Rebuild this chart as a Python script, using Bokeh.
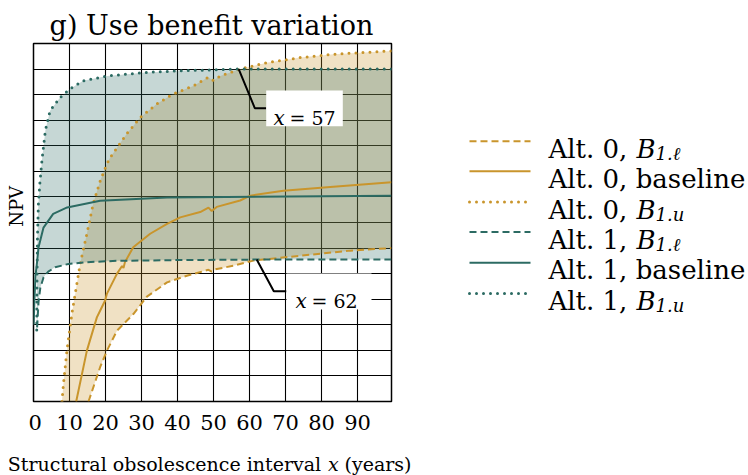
import numpy as np
from bokeh.plotting import figure
from bokeh.layouts import column, row
from bokeh.models import Range1d, Label, FixedTicker
from bokeh.embed import file_html
from bokeh.resources import INLINE

# ---------------- data ----------------
# Alt. 0, B_1.l (lower benefit) - gold dashed
a0_low_x = [15.28, 18.5, 20.4, 23.2, 25.9, 27.8, 31.5, 37.1, 42.6, 48.6, 49.5, 50.5, 55.5, 61.1, 74.1, 88.0, 99.4]
a0_low_y = [0.0, 1.34, 1.99, 2.77, 3.16, 3.43, 4.10, 4.66, 4.92, 5.15, 5.08, 5.17, 5.31, 5.51, 5.70, 5.90, 6.00]
# Alt. 0, baseline - gold solid
a0_base_x = [11.86, 14.83, 17.6, 18.5, 19.9, 20.4, 23.2, 24.6, 25.0, 25.4, 27.7, 32.4, 37.1, 40.75, 46.3, 48.6, 49.5, 50.9, 57.4, 60.2, 69.4, 83.3, 99.4]
a0_base_y = [0.0, 1.99, 3.29, 3.55, 3.95, 4.22, 5.00, 5.30, 5.22, 5.45, 6.03, 6.56, 6.95, 7.20, 7.41, 7.58, 7.45, 7.61, 7.86, 8.05, 8.24, 8.40, 8.57]
# Alt. 0, B_1.u (upper benefit) - gold dotted
a0_up_x = [7.9, 8.33, 9.28, 10.67, 12.97, 14.83, 16.58, 18.53, 20.4, 21.3, 25.9, 29.6, 34.3, 38.8, 44.4, 48.5, 50.0, 51.9, 57.4, 64.8, 74.1, 83.3, 99.4]
a0_up_y = [0.0, 0.70, 1.99, 3.44, 5.39, 6.56, 7.73, 8.63, 9.30, 9.54, 10.47, 11.10, 11.64, 12.03, 12.34, 12.68, 12.55, 12.73, 13.00, 13.25, 13.45, 13.58, 13.71]
# Alt. 1, B_1.l - teal dashed
a1_low_x = [1.0, 1.4, 1.9, 2.8, 4.1, 6.0, 9.7, 15.0, 23.1, 40.0, 62.0, 99.4]
a1_low_y = [2.90, 3.90, 4.45, 4.86, 5.08, 5.25, 5.38, 5.45, 5.50, 5.53, 5.55, 5.55]
# Alt. 1, baseline - teal solid
a1_base_x = [0.05, 0.25, 0.56, 0.94, 1.39, 2.78, 5.47, 9.36, 18.5, 37.1, 99.4]
a1_base_y = [3.00, 3.95, 4.92, 5.39, 6.02, 6.80, 7.34, 7.59, 7.85, 7.98, 8.05]
# Alt. 1, B_1.u - teal dotted
a1_up_x = [0.9, 0.95, 1.0, 1.1, 1.35, 1.8, 2.4, 3.3, 4.6, 7.4, 10.2, 13.8, 20.5, 30.5, 39.9, 57.0, 99.4]
a1_up_y = [2.80, 4.20, 5.20, 6.40, 7.70, 8.60, 9.50, 10.60, 11.37, 11.89, 12.23, 12.54, 12.73, 12.86, 12.93, 13.00, 13.00]

x_ticks = [0, 10, 20, 30, 40, 50, 60, 70, 80, 90]
y_grid = list(range(1, 14))
crossings = [57, 62]
crossing_y = [13.0, 5.55]

title_text = "g) Use benefit variation"
y_label = "NPV"
x_label_parts = ["Structural obsolescence interval", "x", "(years)"]
legend_labels = ["Alt. 0, ", "Alt. 0, baseline", "Alt. 0, ", "Alt. 1, ", "Alt. 1, baseline", "Alt. 1, "]
legend_subs = ["1.\u2113", None, "1.u", "1.\u2113", None, "1.u"]

GOLD = "#c9952c"
TEAL = "#2c6b63"
SERIF = "DejaVu Serif"

# ---------------- geometry (page pixels) ----------------
W, H = 748, 475
TOP_H = 42          # title strip
MID_H = 398         # main plot + legend
BOT_H = H - TOP_H - MID_H
NPV_W = 28          # strip holding the NPV label
MAIN_W = 420 - NPV_W
LEG_W = W - 420
FL, FR = 33, 391
FT, FB = 43, 401
XMAX, YMAX = 99.44, 14.0


def dx(px):
    return (px - FL) * XMAX / (FR - FL)


def dy(py):
    return (FB - py) * YMAX / (FB - FT)


def blank(w, h):
    f = figure(width=w, height=h, output_backend="svg", toolbar_location=None,
               x_range=Range1d(0, w), y_range=Range1d(h, 0),
               x_axis_location=None, y_axis_location=None,
               min_border=0, min_border_left=0, min_border_right=0,
               min_border_top=0, min_border_bottom=0)
    f.outline_line_color = None
    f.xgrid.visible = False
    f.ygrid.visible = False
    f.background_fill_color = "white"
    f.border_fill_color = "white"
    return f


def txt(f, x, y, s, size, italic=False, align="left", baseline="alphabetic", angle=0):
    f.add_layout(Label(x=x, y=y, text=s, text_font=SERIF, text_font_size=size,
                       text_font_style="italic" if italic else "normal",
                       text_align=align, text_baseline=baseline, angle=angle,
                       text_color="black"))


# ---------------- main plot ----------------
p = figure(width=MAIN_W, height=MID_H, output_backend="svg", toolbar_location=None,
           x_range=Range1d(0, XMAX), y_range=Range1d(0, YMAX),
           y_axis_location=None,
           min_border_left=FL - NPV_W, min_border_right=420 - FR,
           min_border_top=FT - TOP_H, min_border_bottom=MID_H - (FB - TOP_H))
p.background_fill_color = "white"
p.border_fill_color = "white"
p.outline_line_color = "black"
p.outline_line_width = 1.5

ax = p.xaxis[0]
ax.ticker = FixedTicker(ticks=x_ticks)
ax.axis_line_color = None
ax.major_tick_in = 0
ax.major_tick_out = 0
ax.minor_tick_line_color = None
ax.major_label_text_font = SERIF
ax.major_label_text_font_size = "21px"
ax.major_label_text_color = "black"
ax.major_label_standoff = 13

p.xgrid.ticker = FixedTicker(ticks=x_ticks)
p.ygrid.ticker = FixedTicker(ticks=y_grid)
for g in (p.xgrid, p.ygrid):
    g.grid_line_color = "black"
    g.grid_line_width = 1.1
    g.grid_line_alpha = 1.0

# fills between lower and upper benefit curves
p.patch(a0_up_x + a0_low_x[::-1], a0_up_y + a0_low_y[::-1], fill_color=GOLD, fill_alpha=0.28, line_color=None)
p.patch(a1_up_x + a1_low_x[::-1], a1_up_y + a1_low_y[::-1], fill_color=TEAL, fill_alpha=0.27, line_color=None)

DOT = dict(line_dash="0 7", line_cap="round", line_width=3.0)
DASH = dict(line_dash="7 4", line_width=2.0)
SOLID = dict(line_width=2.0)

p.line(a0_low_x, a0_low_y, line_color=GOLD, **DASH)
p.line(a0_base_x, a0_base_y, line_color=GOLD, **SOLID)
p.line(a0_up_x, a0_up_y, line_color=GOLD, **DOT)
p.line(a1_low_x, a1_low_y, line_color=TEAL, **DASH)
p.line(a1_base_x, a1_base_y, line_color=TEAL, **SOLID)
p.line(a1_up_x, a1_up_y, line_color=TEAL, **DOT)

# callouts: (box px left, right, top, bottom), leader elbow px, text left px, text baseline px
boxes = [
    ((265.7, 342.3, 90, 125.7), (254.3, 107.7), 273.0, 117.5),
    ((286, 371, 273, 309), (273.3, 290.7), 295.0, 300.0),
]
for (xv, yv), (bx, elbow, tx, tb) in zip(zip(crossings, crossing_y), boxes):
    l, r, t, b = bx
    p.line([xv, dx(elbow[0]), dx(l)], [yv, dy(elbow[1]), dy(elbow[1])], line_color="black", line_width=2)
    p.quad(left=[dx(l)], right=[dx(r)], top=[dy(t)], bottom=[dy(b)], fill_color="white", line_color=None)
    txt(p, dx(tx), dy(tb), "x", "20px", italic=True)
    txt(p, dx(tx + 16), dy(tb), f"= {xv}", "19px")

# ---------------- NPV strip ----------------
pn = blank(NPV_W, MID_H)
txt(pn, 16.3, 223.0 - TOP_H, y_label, "18px", align="center", baseline="middle", angle=np.pi / 2)

# ---------------- title strip ----------------
pt = blank(W, TOP_H)
txt(pt, 211, 25, title_text, "27px", align="center")

# ---------------- legend panel ----------------
pl = blank(LEG_W, MID_H)
leg_rows = [150.7, 184, 218.3, 251.7, 285.7, 320]
leg_cols = [GOLD, GOLD, GOLD, TEAL, TEAL, TEAL]
leg_styles = [DASH, SOLID, DOT, DASH, SOLID, DOT]
ox, oy = 420, TOP_H
for ry, col, sty, lab, sub in zip(leg_rows, leg_cols, leg_styles, legend_labels, legend_subs):
    yy = ry - oy
    pl.line([469 - ox, 530 - ox], [yy, yy], line_color=col, **sty)
    base = yy + 8.5
    txt(pl, 548 - ox, base, lab, "26px")
    if sub is not None:
        txt(pl, 636 - ox, base, "B", "26px", italic=True)
        txt(pl, 655 - ox, base + 5, sub, "18px", italic=True)

# ---------------- x label strip ----------------
pb = blank(W, BOT_H)
xb = 463.5 - (TOP_H + MID_H)
txt(pb, 7.3, xb, x_label_parts[0], "19px")
txt(pb, 327.5, xb, x_label_parts[1], "19px", italic=True)
txt(pb, 344, xb, x_label_parts[2], "19px")

layout = column(pt, row(pn, p, pl), pb)
open("out.html", "w").write(file_html(layout, INLINE))
